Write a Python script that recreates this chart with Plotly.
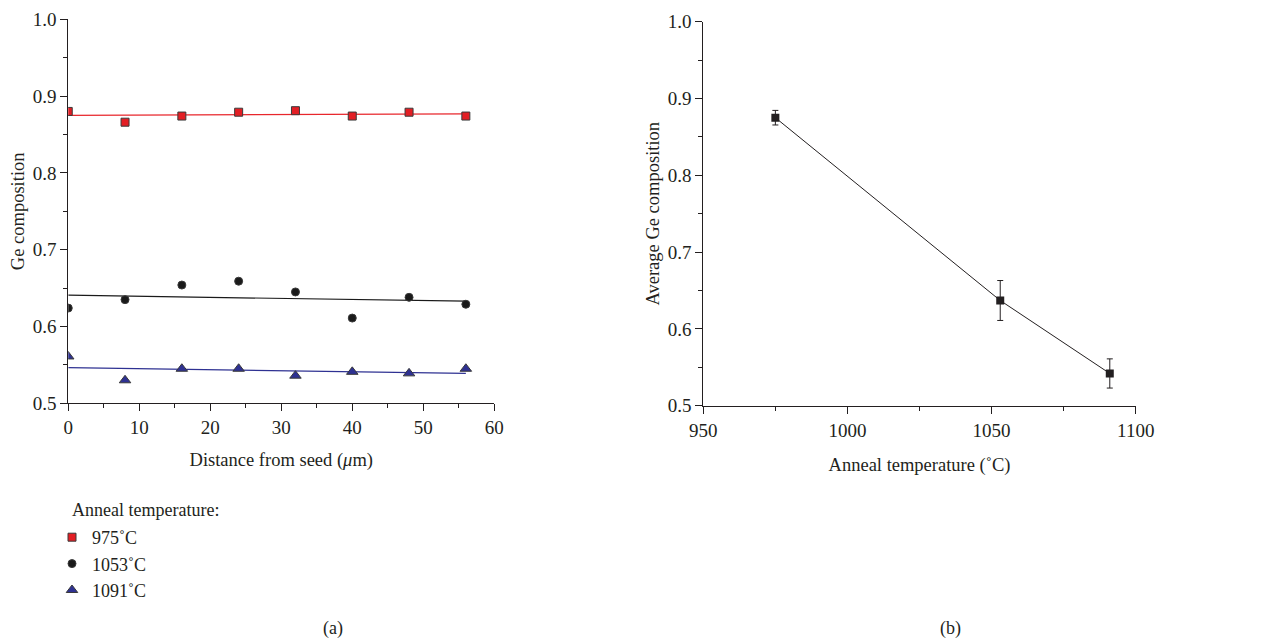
import numpy as np
import plotly.graph_objects as go

# ---- data (a) ----
distance = [0, 8, 16, 24, 32, 40, 48, 56]
ge_975 = [0.880, 0.866, 0.874, 0.879, 0.881, 0.874, 0.879, 0.874]
ge_1053 = [0.624, 0.635, 0.654, 0.659, 0.645, 0.611, 0.638, 0.629]
ge_1091 = [0.561, 0.530, 0.545, 0.545, 0.536, 0.541, 0.539, 0.545]
series_names = ["975˚C", "1053˚C", "1091˚C"]

# ---- data (b) ----
anneal_temp = [975, 1053, 1091]
avg_ge = [0.875, 0.637, 0.542]
avg_err = [0.0095, 0.026, 0.019]

FONT = "Liberation Serif"
TXT = "#231f20"
W, H = 1263, 630

fig = go.Figure()

styles = [
    dict(symbol="square", color="#e31e24", line="#e8262c", size=8),
    dict(symbol="circle", color="#1a1a1a", line="#1a1a1a", size=8),
    dict(symbol="triangle-up", color="#2e3192", line="#2e3192", size=10),
]
for ys, name, st in zip([ge_975, ge_1053, ge_1091], series_names, styles):
    coef = np.polyfit(distance, ys, 1)
    xf = [distance[0], distance[-1]]
    fig.add_trace(go.Scatter(
        x=xf, y=np.polyval(coef, xf), mode="lines",
        line=dict(color=st["line"], width=1.2), showlegend=False,
        xaxis="x", yaxis="y"))
for ys, name, st in zip([ge_975, ge_1053, ge_1091], series_names, styles):
    fig.add_trace(go.Scatter(
        x=distance, y=ys, mode="markers", name=name,
        marker=dict(symbol=st["symbol"], color=st["color"], size=st["size"],
                    line=dict(color="#3a3a3a", width=1)),
        xaxis="x", yaxis="y"))

fig.add_trace(go.Scatter(
    x=anneal_temp, y=avg_ge, mode="lines+markers", showlegend=False,
    line=dict(color="#231f20", width=1),
    marker=dict(symbol="square", size=8, color="#231f20"),
    error_y=dict(type="data", array=avg_err, visible=True,
                 color="#231f20", thickness=1, width=3),
    xaxis="x2", yaxis="y2"))

axis_common = dict(
    showline=True, linecolor="#231f20", linewidth=1, ticks="outside",
    ticklen=7, tickcolor="#231f20", showgrid=False, zeroline=False,
    tickfont=dict(family=FONT, size=19, color=TXT),
    title_font=dict(family=FONT, size=18.5, color=TXT), mirror=False,
    automargin=False,
)
minor_common = dict(ticklen=4, ticks="outside", tickcolor="#231f20")

fig.update_layout(
    width=W, height=H,
    margin=dict(l=0, r=0, t=0, b=0, autoexpand=False),
    paper_bgcolor="white", plot_bgcolor="white",
    font=dict(family=FONT, color=TXT),
    xaxis=dict(domain=[0.0477, 0.3850], range=[0, 60], dtick=10,
               minor=dict(dtick=5, **minor_common),
               title=dict(text="Distance from seed (<i>μ</i>m)", standoff=15),
               anchor="y", **axis_common),
    yaxis=dict(domain=[0.3725, 0.9821], range=[0.5, 1.0], dtick=0.1, tickformat=".1f",
               minor=dict(dtick=0.05, **minor_common),
               title=dict(text="Ge composition", standoff=6),
               anchor="x", **axis_common),
    xaxis2=dict(domain=[0.5505, 0.8929], range=[950, 1100], dtick=50,
                minor=dict(dtick=25, **minor_common),
                title=dict(text="Anneal temperature (˚C)", standoff=18),
                anchor="y2", **axis_common),
    yaxis2=dict(domain=[0.3687, 0.9783], range=[0.5, 1.0], dtick=0.1, tickformat=".1f",
                minor=dict(dtick=0.05, **minor_common),
                title=dict(text="Average Ge composition", standoff=3),
                anchor="x2", **axis_common),
    legend=dict(
        x=44 / W, y=1 - 511 / H, xanchor="left", yanchor="top",
        font=dict(family=FONT, size=18, color=TXT),
        bgcolor="rgba(0,0,0,0)", tracegroupgap=0, itemwidth=30,
    ),
    annotations=[
        dict(text="Anneal temperature:", x=62 / W, y=1 - 502 / H, xref="paper", yref="paper",
             xanchor="left", yanchor="middle", showarrow=False,
             font=dict(family=FONT, size=18, color=TXT)),
        dict(text="(a)", x=313 / W, y=1 - 620 / H, xref="paper", yref="paper",
             yanchor="middle", showarrow=False, font=dict(family=FONT, size=18, color=TXT)),
        dict(text="(b)", x=955 / W, y=1 - 620 / H, xref="paper", yref="paper",
             yanchor="middle", showarrow=False, font=dict(family=FONT, size=18, color=TXT)),
    ],
)

fig.write_html("out.html")
